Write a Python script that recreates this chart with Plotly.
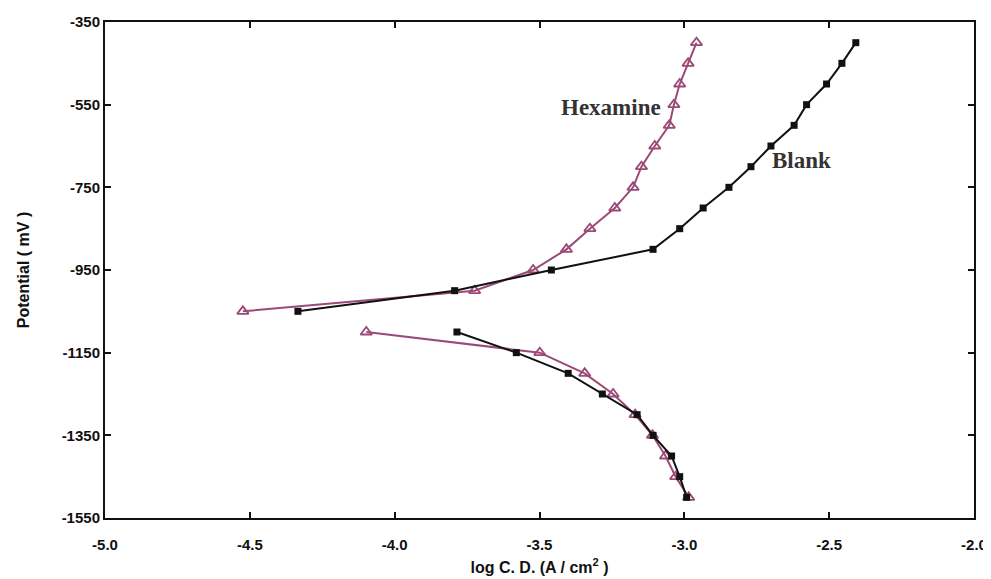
import plotly.graph_objects as go

# Hexamine (anodic branch)
hex_an_x = [-4.524, -3.724, -3.522, -3.407, -3.326, -3.240, -3.177, -3.148, -3.102, -3.052, -3.036, -3.016, -2.987, -2.958]
hex_an_y = [-1050, -1000, -950, -900, -850, -800, -750, -700, -650, -600, -550, -500, -450, -400]
# Hexamine (cathodic branch)
hex_ca_x = [-4.098, -3.499, -3.344, -3.246, -3.170, -3.110, -3.065, -3.030, -2.985]
hex_ca_y = [-1100, -1150, -1200, -1250, -1300, -1350, -1400, -1450, -1500]
# Blank (anodic branch)
blank_an_x = [-4.334, -3.793, -3.459, -3.108, -3.016, -2.935, -2.846, -2.770, -2.701, -2.621, -2.578, -2.509, -2.456, -2.408]
blank_an_y = [-1050, -1000, -950, -900, -850, -800, -750, -700, -650, -600, -550, -500, -450, -400]
# Blank (cathodic branch)
blank_ca_x = [-3.785, -3.580, -3.401, -3.283, -3.163, -3.108, -3.044, -3.016, -2.992]
blank_ca_y = [-1100, -1150, -1200, -1250, -1300, -1350, -1400, -1450, -1500]

x_ticks = [-5.0, -4.5, -4.0, -3.5, -3.0, -2.5, -2.0]
y_ticks = [-350, -550, -750, -950, -1150, -1350, -1550]

HEX = "#9b4a78"
BLK = "#111111"

fig = go.Figure()
for xs, ys in [(hex_an_x, hex_an_y), (hex_ca_x, hex_ca_y)]:
    fig.add_trace(go.Scatter(x=xs, y=ys, mode="lines+markers", name="Hexamine",
                             line=dict(color=HEX, width=2),
                             marker=dict(symbol="triangle-up-open", size=10, color=HEX,
                                         line=dict(width=1.8, color=HEX)),
                             showlegend=False))
for xs, ys in [(blank_an_x, blank_an_y), (blank_ca_x, blank_ca_y)]:
    fig.add_trace(go.Scatter(x=xs, y=ys, mode="lines+markers", name="Blank",
                             line=dict(color=BLK, width=2),
                             marker=dict(symbol="square", size=7, color=BLK),
                             showlegend=False))

fig.add_annotation(x=-3.254, y=-558, text="Hexamine", showarrow=False,
                   font=dict(family="Liberation Serif, Times New Roman, serif", size=23,
                             color="#333333", weight="bold"))
fig.add_annotation(x=-2.594, y=-686, text="Blank", showarrow=False,
                   font=dict(family="Liberation Serif, Times New Roman, serif", size=23,
                             color="#333333", weight="bold"))

tick_font = dict(family="Liberation Sans Narrow, Arial Narrow, Liberation Sans, sans-serif",
                 size=15, color="#111111", weight="bold")
title_font = dict(family="Liberation Sans Narrow, Arial Narrow, Liberation Sans, sans-serif",
                  size=16, color="#111111", weight="bold")

fig.update_xaxes(range=[-5.0, -2.0], tickvals=x_ticks,
                 ticktext=[f"{v:.1f}" for v in x_ticks],
                 ticks="inside", ticklen=6, tickwidth=1.5, tickcolor="#111111",
                 showline=True, linecolor="#111111", linewidth=2, mirror="ticks",
                 showgrid=False, zeroline=False, tickfont=tick_font, automargin=False,
                 ticklabelstandoff=12,
                 title=dict(text="log C. D. (A / cm<sup>2</sup> )", font=title_font, standoff=10))
fig.update_yaxes(range=[-1550, -350], tickvals=y_ticks,
                 ticktext=[str(v) for v in y_ticks],
                 ticks="inside", ticklen=6, tickwidth=1.5, tickcolor="#111111",
                 showline=True, linecolor="#111111", linewidth=2, mirror="ticks",
                 showgrid=False, zeroline=False, tickfont=tick_font, automargin=False,
                 title=dict(text="Potential ( mV )", font=title_font, standoff=28))

# page body has an 8px default margin; size the figure so the plot area lands where the reference has it
fig.update_layout(width=983, height=571,
                  margin=dict(l=97, r=17, t=14, b=61),
                  paper_bgcolor="white", plot_bgcolor="white")

fig.write_html("out.html")
